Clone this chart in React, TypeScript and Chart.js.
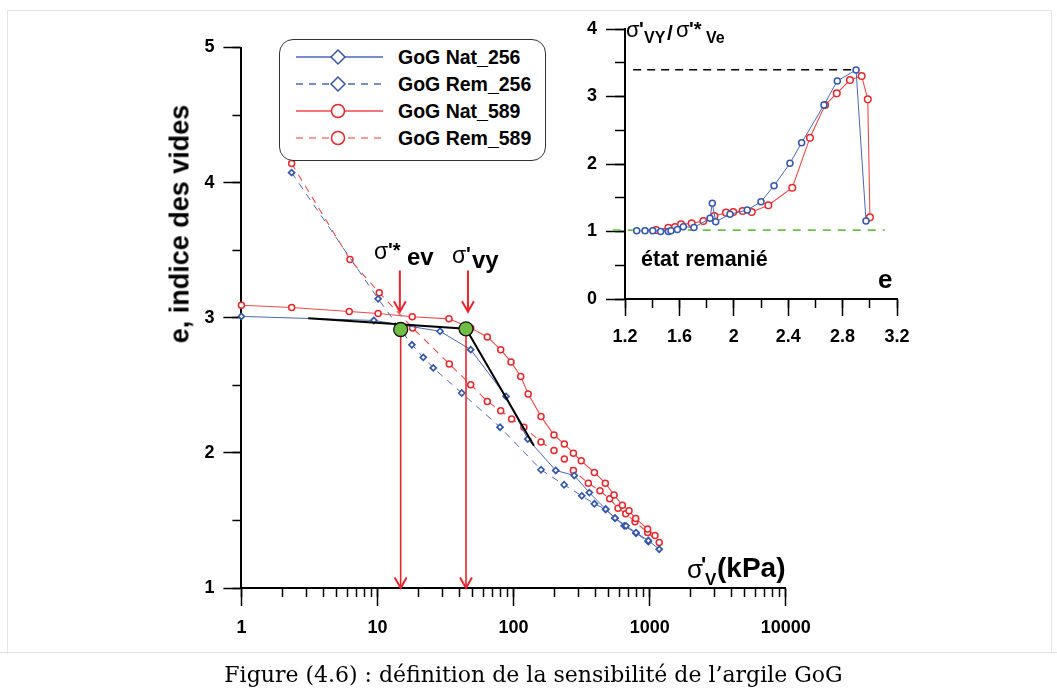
import React, { useEffect, useRef } from "react";
import { Chart, registerables } from "chart.js";

Chart.register(...registerables);

// ---------- Main chart: void ratio e vs sigma'v (kPa), log axis ----------
const nat256Sigma = [1, 9.4, 28.8, 48.4, 88, 127, 204, 279, 360, 475, 556, 670, 793, 977, 1175];
const nat256E = [3.01, 2.98, 2.9, 2.764, 2.418, 2.102, 1.87, 1.833, 1.706, 1.583, 1.517, 1.46, 1.41, 1.351, 1.287];

const rem256Sigma = [2.34, 10.1, 17.9, 21.7, 25.7, 41.6, 79.5, 159, 235, 317, 392, 475, 556, 650, 793, 977];
const rem256E = [4.074, 3.14, 2.8, 2.707, 2.629, 2.443, 2.19, 1.875, 1.764, 1.682, 1.623, 1.583, 1.517, 1.46, 1.405, 1.343];

const nat589Sigma = [1, 2.34, 6.2, 10.1, 18.0, 33.5, 48.4, 64.1, 80.4, 95.7, 112.8, 128, 159, 198, 236, 275, 314, 392, 472, 547, 630, 705, 789, 966, 1094];
const nat589E = [3.093, 3.076, 3.046, 3.031, 3.007, 2.992, 2.925, 2.858, 2.764, 2.673, 2.566, 2.436, 2.27, 2.132, 2.065, 1.998, 1.941, 1.855, 1.776, 1.689, 1.613, 1.571, 1.514, 1.437, 1.388];

const rem589Sigma = [2.34, 6.28, 10.3, 18.1, 33.7, 48.4, 64.1, 80.4, 96.7, 119, 159, 198, 236, 275, 354, 431, 508, 585, 667, 780, 966, 1175];
const rem589E = [4.141, 3.431, 3.185, 2.925, 2.658, 2.505, 2.381, 2.312, 2.25, 2.19, 2.08, 2.018, 1.954, 1.87, 1.776, 1.719, 1.66, 1.591, 1.549, 1.491, 1.41, 1.336];

const bilinearSigma = [3.1, 44.7, 141];
const bilinearE = [2.996, 2.918, 2.053];

const yieldSigma = [14.8, 44.7]; // sigma'*ev , sigma'vy
const yieldE = [2.913, 2.918];
const axisE = 1;
const shortArrowSigma = [14.6, 46.2];
const shortArrowFromE = 3.35;
const shortArrowToE = 3.045;

const mainXTicks = [1, 10, 100, 1000, 10000];
const mainXMinor = [2, 3, 4, 5, 6, 7, 8, 9, 20, 30, 40, 50, 60, 70, 80, 90, 200, 300, 400, 500, 600, 700, 800, 900, 2000, 3000, 4000, 5000, 6000, 7000, 8000, 9000];
const mainYTicks = [1, 2, 3, 4, 5];
const mainYMinor = [1.5, 2.5, 3.5, 4.5];

// ---------- Inset: sigma'VY / sigma'*Ve vs e ----------
const insetBlueE = [1.286, 1.347, 1.404, 1.462, 1.519, 1.538, 1.585, 1.629, 1.707, 1.825, 1.842, 1.867, 1.972, 2.099, 2.2, 2.296, 2.413, 2.499, 2.663, 2.761, 2.899, 2.972];
const insetBlueRatio = [1.01, 1.01, 1.01, 1.0, 1.0, 1.01, 1.03, 1.07, 1.06, 1.195, 1.418, 1.145, 1.255, 1.318, 1.442, 1.679, 2.01, 2.316, 2.874, 3.23, 3.393, 1.156];
const insetRedE = [1.428, 1.519, 1.568, 1.612, 1.69, 1.776, 1.857, 1.943, 1.996, 2.065, 2.132, 2.254, 2.43, 2.56, 2.671, 2.757, 2.854, 2.94, 2.985, 3.001];
const insetRedRatio = [1.022, 1.056, 1.067, 1.107, 1.121, 1.156, 1.23, 1.279, 1.289, 1.304, 1.289, 1.388, 1.649, 2.39, 2.874, 3.047, 3.244, 3.304, 2.958, 1.21];
const peakRatio = 3.397;
const peakLineE = [1.26, 2.899];
const remouldedRatio = 1.02;
const remouldedLineE = [1.11, 3.11];

const insetXTicks = [1.2, 1.6, 2, 2.4, 2.8, 3.2];
const insetXLabels = ["1.2", "1.6", "2", "2.4", "2.8", "3.2"];
const insetXMinor = [1.4, 1.8, 2.2, 2.6, 3.0];
const insetYTicks = [0, 1, 2, 3, 4];
const insetYMinor = [0.5, 1.5, 2.5, 3.5];

const legendLabels = ["GoG Nat_256", "GoG Rem_256", "GoG Nat_589", "GoG Rem_589"];

// ---------- styles ----------
const SANS = '"Liberation Sans", Arial, Helvetica, sans-serif';
const SERIF = '"DejaVu Serif", "Liberation Serif", serif';
const BLUE = "#3456ac";
const BLUE_LINE = "#4a68b8";
const RED = "#e8262b";
const RED_LINE = "#f04a4a";
const RED_LIGHT = "#f37a7a";
const GREEN = "#70bd45";

const W = 1057;
const H = 690;

const zip = (xs: number[], ys: number[]) => xs.map((x, i) => ({ x, y: ys[i] }));
const merged = (a: number[], b: number[]) => [...a, ...b].sort((p, q) => p - q);

function arrowHeads(indices: number[]) {
  return {
    id: "arrowHeads",
    afterDatasetsDraw(chart: any) {
      const ctx = chart.ctx;
      for (const i of indices) {
        const pts = chart.getDatasetMeta(i).data;
        const p = pts[pts.length - 1];
        const q = pts[pts.length - 2];
        const ang = Math.atan2(p.y - q.y, p.x - q.x);
        const len = 12;
        const spread = 0.52;
        ctx.save();
        ctx.strokeStyle = RED;
        ctx.lineWidth = 2;
        ctx.setLineDash([]);
        ctx.beginPath();
        ctx.moveTo(p.x - len * Math.cos(ang - spread), p.y - len * Math.sin(ang - spread));
        ctx.lineTo(p.x, p.y);
        ctx.lineTo(p.x - len * Math.cos(ang + spread), p.y - len * Math.sin(ang + spread));
        ctx.stroke();
        ctx.restore();
      }
    },
  };
}

const tickFont = { family: SANS, size: 18, weight: "bold" as const };

// Zero-thickness axis next to the chart area that only lengthens the major tick marks.
function majorTickAxis(base: any, axis: "x" | "y", values: number[], len: number) {
  return {
    ...base,
    axis,
    position: axis === "x" ? "bottom" : "left",
    weight: 0,
    afterBuildTicks: (s: any) => {
      s.ticks = values.map((v) => ({ value: v }));
    },
    afterFit: (s: any) => {
      if (axis === "x") s.height = 0;
      else s.width = 0;
    },
    grid: { display: true, drawOnChartArea: false, drawTicks: true, tickLength: len, tickWidth: 1.5, tickColor: "#000" },
    border: { display: false },
    ticks: { display: false },
  };
}

function mainConfig(): any {
  const datasets: any[] = [
    {
      data: zip(yieldSigma, yieldE),
      showLine: false,
      pointRadius: 7,
      pointBackgroundColor: GREEN,
      pointBorderColor: "#111",
      pointBorderWidth: 1.3,
    },
    ...yieldSigma.map((s, i) => ({
      data: [
        { x: s, y: yieldE[i] },
        { x: s, y: axisE },
      ],
      showLine: true,
      borderColor: RED,
      borderWidth: 1.6,
      pointRadius: 0,
    })),
    ...shortArrowSigma.map((s) => ({
      data: [
        { x: s, y: shortArrowFromE },
        { x: s, y: shortArrowToE },
      ],
      showLine: true,
      borderColor: RED,
      borderWidth: 2,
      pointRadius: 0,
    })),
    {
      data: zip(bilinearSigma, bilinearE),
      showLine: true,
      borderColor: "#000",
      borderWidth: 2,
      pointRadius: 0,
    },
    {
      data: zip(nat256Sigma, nat256E),
      showLine: true,
      borderColor: BLUE_LINE,
      borderWidth: 1,
      pointStyle: "rectRot",
      pointRadius: 3,
      pointBorderWidth: 1.7,
      pointBorderColor: BLUE,
      pointBackgroundColor: "#fff",
    },
    {
      data: zip(rem256Sigma, rem256E),
      showLine: true,
      borderColor: BLUE_LINE,
      borderWidth: 1,
      borderDash: [7, 6],
      pointStyle: "rectRot",
      pointRadius: 3,
      pointBorderWidth: 1.7,
      pointBorderColor: BLUE,
      pointBackgroundColor: "#fff",
    },
    {
      data: zip(nat589Sigma, nat589E),
      showLine: true,
      borderColor: RED_LINE,
      borderWidth: 1.1,
      pointStyle: "circle",
      pointRadius: 3,
      pointBorderWidth: 1.5,
      pointBorderColor: RED,
      pointBackgroundColor: "#fff",
    },
    {
      data: zip(rem589Sigma, rem589E),
      showLine: true,
      borderColor: RED_LINE,
      borderWidth: 1.1,
      borderDash: [7, 6],
      pointStyle: "circle",
      pointRadius: 3,
      pointBorderWidth: 1.5,
      pointBorderColor: RED,
      pointBackgroundColor: "#fff",
    },
  ];
  datasets.forEach((d) => {
    d.clip = false;
    d.xAxisID = "x";
    d.yAxisID = "y";
  });

  const xAll = merged(mainXTicks, mainXMinor);
  const yAll = merged(mainYTicks, mainYMinor);

  return {
    type: "scatter",
    data: { datasets },
    options: {
      responsive: false,
      animation: false,
      events: [],
      layout: { padding: { left: 0, top: 47.5, right: W - 785.8, bottom: 0 } },
      plugins: { legend: { display: false }, tooltip: { enabled: false } },
      scales: {
        x: {
          type: "logarithmic",
          axis: "x",
          min: 1,
          max: 10000,
          position: "bottom",
          weight: 1,
          afterBuildTicks: (s: any) => {
            s.ticks = xAll.map((v) => ({ value: v }));
          },
          afterFit: (s: any) => {
            s.height = H - 588;
          },
          grid: { drawOnChartArea: false, drawTicks: true, tickLength: 9, tickWidth: 1.5, tickColor: "#000" },
          border: { display: true, color: "#000", width: 2 },
          ticks: {
            color: "#000",
            font: tickFont,
            padding: 20,
            maxRotation: 0,
            autoSkip: false,
            callback: (v: any) => (mainXTicks.includes(v) ? String(v) : ""),
          },
        },
        y: {
          type: "linear",
          axis: "y",
          min: 1,
          max: 5,
          position: "left",
          weight: 1,
          afterBuildTicks: (s: any) => {
            s.ticks = yAll.map((v) => ({ value: v }));
          },
          afterFit: (s: any) => {
            s.width = 241.4;
          },
          grid: { drawOnChartArea: false, drawTicks: true, tickLength: 9, tickWidth: 1.5, tickColor: "#000" },
          border: { display: true, color: "#000", width: 2 },
          ticks: {
            color: "#000",
            font: tickFont,
            padding: 18,
            autoSkip: false,
            callback: (v: any) => (mainYTicks.includes(v) ? String(v) : ""),
          },
        },
        xMajor: majorTickAxis({ type: "logarithmic", min: 1, max: 10000 }, "x", mainXTicks, 18),
        yMajor: majorTickAxis({ type: "linear", min: 1, max: 5 }, "y", mainYTicks, 18),
      },
    },
    plugins: [arrowHeads([1, 2, 3, 4])],
  };
}

function insetConfig(): any {
  const datasets: any[] = [
    {
      data: zip(insetBlueE, insetBlueRatio),
      showLine: true,
      borderColor: BLUE_LINE,
      borderWidth: 1,
      pointStyle: "circle",
      pointRadius: 3,
      pointBorderWidth: 1.5,
      pointBorderColor: BLUE,
      pointBackgroundColor: "#fff",
    },
    {
      data: zip(insetRedE, insetRedRatio),
      showLine: true,
      borderColor: RED_LINE,
      borderWidth: 1.1,
      pointStyle: "circle",
      pointRadius: 3.3,
      pointBorderWidth: 1.5,
      pointBorderColor: RED,
      pointBackgroundColor: "#fff",
    },
    {
      data: peakLineE.map((e) => ({ x: e, y: peakRatio })),
      showLine: true,
      borderColor: "#000",
      borderWidth: 1.6,
      borderDash: [8, 6],
      pointRadius: 0,
    },
    {
      data: remouldedLineE.map((e) => ({ x: e, y: remouldedRatio })),
      showLine: true,
      borderColor: "#6cc04a",
      borderWidth: 1.6,
      borderDash: [8, 7],
      pointRadius: 0,
    },
  ];
  datasets.forEach((d) => {
    d.clip = false;
    d.xAxisID = "x";
    d.yAxisID = "y";
  });

  const xAll = merged(insetXTicks, insetXMinor);
  const yAll = merged(insetYTicks, insetYMinor);

  return {
    type: "scatter",
    data: { datasets },
    options: {
      responsive: false,
      animation: false,
      events: [],
      layout: { padding: { left: 0, top: 29, right: W - 897, bottom: 0 } },
      plugins: { legend: { display: false }, tooltip: { enabled: false } },
      scales: {
        x: {
          type: "linear",
          axis: "x",
          min: 1.2,
          max: 3.2,
          position: "bottom",
          weight: 1,
          afterBuildTicks: (s: any) => {
            s.ticks = xAll.map((v) => ({ value: v }));
          },
          afterFit: (s: any) => {
            s.height = H - 299;
          },
          grid: { drawOnChartArea: false, drawTicks: true, tickLength: 9, tickWidth: 1.5, tickColor: "#000" },
          border: { display: true, color: "#000", width: 2 },
          ticks: {
            color: "#000",
            font: tickFont,
            padding: 18,
            maxRotation: 0,
            autoSkip: false,
            callback: (v: any) => {
              const k = insetXTicks.indexOf(v);
              return k >= 0 ? insetXLabels[k] : "";
            },
          },
        },
        y: {
          type: "linear",
          axis: "y",
          min: 0,
          max: 4,
          position: "left",
          weight: 1,
          afterBuildTicks: (s: any) => {
            s.ticks = yAll.map((v) => ({ value: v }));
          },
          afterFit: (s: any) => {
            s.width = 625;
          },
          grid: { drawOnChartArea: false, drawTicks: true, tickLength: 10, tickWidth: 1.5, tickColor: "#000" },
          border: { display: true, color: "#000", width: 2 },
          ticks: {
            color: "#000",
            font: tickFont,
            padding: 18,
            autoSkip: false,
            callback: (v: any) => (insetYTicks.includes(v) ? String(v) : ""),
          },
        },
        xMajor: majorTickAxis({ type: "linear", min: 1.2, max: 3.2 }, "x", insetXTicks, 17),
        yMajor: majorTickAxis({ type: "linear", min: 0, max: 4 }, "y", insetYTicks, 19),
      },
    },
  };
}

type TxtProps = {
  x: number;
  b: number;
  size: number;
  bold?: boolean;
  family?: string;
  children: React.ReactNode;
};

function Txt({ x, b, size, bold = true, family = SANS, children }: TxtProps) {
  return (
    <div
      style={{
        position: "absolute",
        left: x,
        top: b - 0.846 * size,
        fontFamily: family,
        fontSize: size,
        lineHeight: `${size}px`,
        fontWeight: bold ? "bold" : "normal",
        whiteSpace: "nowrap",
        color: "#000",
      }}
    >
      {children}
    </div>
  );
}

function LegendSymbol({ idx }: { idx: number }) {
  const isBlue = idx < 2;
  const dashed = idx % 2 === 1;
  const lineColor = isBlue ? BLUE_LINE : dashed ? RED_LIGHT : RED_LINE;
  const markColor = isBlue ? BLUE : RED;
  return (
    <svg width={90} height={20} style={{ position: "absolute", left: 15, top: -10 }}>
      <line
        x1={1}
        y1={10}
        x2={88}
        y2={10}
        stroke={lineColor}
        strokeWidth={1.3}
        strokeDasharray={dashed ? "7 6" : undefined}
      />
      {isBlue ? (
        <polygon points="43,3 50,10 43,17 36,10" fill="#fff" stroke={markColor} strokeWidth={1.5} />
      ) : (
        <circle cx={43} cy={10} r={6.5} fill="#fff" stroke={markColor} strokeWidth={1.5} />
      )}
    </svg>
  );
}

export default function App() {
  const mainRef = useRef<HTMLCanvasElement>(null);
  const insetRef = useRef<HTMLCanvasElement>(null);

  useEffect(() => {
    const main = new Chart(mainRef.current as HTMLCanvasElement, mainConfig());
    const inset = new Chart(insetRef.current as HTMLCanvasElement, insetConfig());
    return () => {
      main.destroy();
      inset.destroy();
    };
  }, []);

  const rowY = [17, 44.3, 71, 98.3];

  return (
    <div style={{ position: "absolute", left: 0, top: 0, width: W, height: H, background: "#fff", overflow: "hidden" }}>
      <div
        style={{
          position: "absolute",
          left: 7,
          top: 10,
          width: 1043,
          height: 643,
          borderLeft: "1px solid #e6e6e6",
          borderTop: "1px solid #e6e6e6",
          borderRight: "1px solid #e6e6e6",
        }}
      />
      <div style={{ position: "absolute", left: 0, top: 652, width: W, height: 1, background: "#e2e2e2" }} />

      <canvas ref={mainRef} width={W} height={H} style={{ position: "absolute", left: 0, top: 0 }} />
      <canvas ref={insetRef} width={W} height={H} style={{ position: "absolute", left: 0, top: 0 }} />

      {/* Legend */}
      <div
        style={{
          position: "absolute",
          left: 279,
          top: 39,
          width: 267,
          height: 122,
          boxSizing: "border-box",
          border: "1.5px solid #333",
          borderRadius: 14,
          background: "#fff",
        }}
      >
        {legendLabels.map((lab, i) => (
          <div key={lab} style={{ position: "absolute", left: 0, top: rowY[i] }}>
            <LegendSymbol idx={i} />
            <div
              style={{
                position: "absolute",
                left: 118,
                top: -11,
                fontFamily: SANS,
                fontWeight: "bold",
                fontSize: 19.5,
                lineHeight: "22px",
                whiteSpace: "nowrap",
              }}
            >
              {lab}
            </div>
          </div>
        ))}
      </div>

      {/* Y axis title */}
      <div
        style={{
          position: "absolute",
          left: 180,
          top: 224,
          transform: "translate(-50%, -50%) rotate(-90deg)",
          fontFamily: SANS,
          fontWeight: "bold",
          fontSize: 27,
          lineHeight: "27px",
          whiteSpace: "nowrap",
        }}
      >
        e, indice des vides
      </div>

      {/* X axis title */}
      <Txt x={687} b={578} size={26} bold={false}>σ</Txt>
      <Txt x={701} b={573} size={22}>'</Txt>
      <Txt x={705} b={585} size={17}>V</Txt>
      <Txt x={717} b={578} size={28}>(kPa)</Txt>

      {/* sigma'*ev */}
      <Txt x={374} b={259} size={23} bold={false}>σ</Txt>
      <Txt x={388} b={257} size={20}>'*</Txt>
      <Txt x={407} b={265} size={24}>ev</Txt>

      {/* sigma'vy */}
      <Txt x={452} b={263} size={23} bold={false}>σ</Txt>
      <Txt x={466} b={261} size={20}>'</Txt>
      <Txt x={472} b={268} size={24}>vy</Txt>

      {/* inset labels */}
      <Txt x={626} b={38} size={22} bold={false}>σ</Txt>
      <Txt x={639} b={36} size={20}>'</Txt>
      <Txt x={644} b={44} size={16}>VY</Txt>
      <Txt x={667} b={40} size={21}>/</Txt>
      <Txt x={676} b={38} size={22} bold={false}>σ</Txt>
      <Txt x={689} b={36} size={20}>'*</Txt>
      <Txt x={706} b={44} size={16}>Ve</Txt>

      <Txt x={641} b={267} size={21.5}>état remanié</Txt>
      <Txt x={878} b={288} size={26}>e</Txt>

      {/* caption */}
      <div
        style={{
          position: "absolute",
          left: 5,
          top: 661,
          width: W,
          textAlign: "center",
          fontFamily: SERIF,
          fontSize: 22,
          lineHeight: "28px",
          whiteSpace: "nowrap",
        }}
      >
        Figure (4.6) : définition de la sensibilité de l’argile GoG
      </div>
    </div>
  );
}
